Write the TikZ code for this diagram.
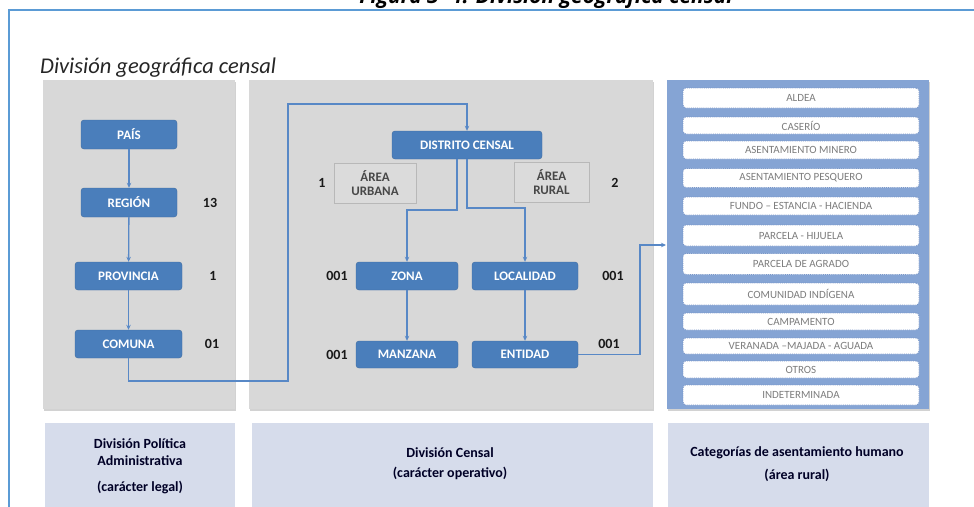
\documentclass[tikz,border=0pt]{standalone}
\usepackage{fontspec}
\setmainfont{Carlito}
\newfontfamily\titlefont{Open Sans}
\usetikzlibrary{arrows.meta,shadows}
\definecolor{frameblue}{RGB}{91,155,213}
\definecolor{boxblue}{RGB}{74,126,187}
\definecolor{linkblue}{RGB}{88,136,198}
\definecolor{panelgray}{RGB}{216,216,216}
\definecolor{catblue}{RGB}{133,164,212}
\definecolor{footblue}{RGB}{214,220,235}
\definecolor{cattext}{RGB}{125,125,125}
\definecolor{dotblue}{RGB}{120,150,200}
\tikzset{
  panel/.style={rectangle, inner sep=0pt, fill=panelgray, drop shadow={shadow xshift=0.5pt, shadow yshift=-2pt, opacity=0.35}},
  catpanel/.style={rectangle, inner sep=0pt, fill=catblue, drop shadow={shadow xshift=0.5pt, shadow yshift=-2pt, opacity=0.35}},
  footpanel/.style={rectangle, inner sep=0pt, fill=footblue},
  bluebox/.style={rectangle, rounded corners=3pt, fill=boxblue, draw=boxblue!85!black, line width=0.4pt, text=white, font=\fontsize{13}{14}\selectfont\bfseries, inner sep=0pt},
  areabox/.style={rectangle, fill=panelgray!92!white, draw=black!28, line width=0.6pt, text=black!72, font=\fontsize{13}{14}\selectfont\bfseries, align=center, inner sep=0pt, minimum height=40pt},
  numlabel/.style={font=\fontsize{14}{15}\selectfont\bfseries, text=black!90, inner sep=0pt},
  catitem/.style={rectangle, rounded corners=3pt, fill=white, draw=dotblue, densely dotted, line width=0.9pt, text=cattext, font=\fontsize{11}{12}\selectfont, minimum width=236pt, inner sep=0pt},
  foottext/.style={font=\fontsize{14}{15}\selectfont\bfseries, text=black!85!blue, inner sep=0pt},
  link/.style={draw=linkblue, line width=1.3pt},
  arr/.style={link, -{Stealth[length=5pt,width=4.5pt]}}
}
\begin{document}
\begin{tikzpicture}[x=1pt,y=-1pt]
\useasboundingbox (0,0) rectangle (974,506);
\clip (0,0) rectangle (974,506);
\fill[white] (0,0) rectangle (974,506);
% title (cut at top, as in the reference)
\node[anchor=base, inner sep=0pt, font=\titlefont\fontsize{21}{22}\selectfont\bfseries\itshape] (title) at (546,3) {Figura 3- 4: División geográfica censal};
% outer frame
\draw[frameblue, line width=2pt] (9,520) -- (9,10) -- (990,10);
% subtitle
\node[anchor=base west, inner sep=0pt, font=\fontsize{22.5}{24}\selectfont\itshape, text=black!85] (subtitle) at (40,73) {División geográfica censal};
% panels
\node[panel, minimum width=192pt, minimum height=329pt] (lpanel) at (139,244.5) {};
\node[panel, minimum width=404pt, minimum height=329pt] (mpanel) at (451,244.5) {};
\node[catpanel, minimum width=262pt, minimum height=329pt] (catp) at (798,244.5) {};
% footer panels
\node[footpanel, minimum width=190pt, minimum height=100pt] (lfoot) at (140,473) {};
\node[footpanel, minimum width=401pt, minimum height=100pt] (mfoot) at (452.5,473) {};
\node[footpanel, minimum width=261pt, minimum height=100pt] (rfoot) at (798.5,473) {};
\node[foottext] (lf1) at (140,444) {División Política};
\node[foottext] (lf2) at (140,461) {Administrativa};
\node[foottext] (lf3) at (140,487) {(carácter legal)};
\node[foottext] (mf1) at (450,453) {División Censal};
\node[foottext] (mf2) at (450,473) {(carácter operativo)};
\node[foottext] (rf1) at (797,453) {Categorías de asentamiento humano};
\node[foottext] (rf2) at (797,475) {(área rural)};
% left column
\node[bluebox, minimum width=96pt, minimum height=29pt] (pais) at (129,134.5) {PAÍS};
\node[bluebox, minimum width=96pt, minimum height=29pt] (region) at (129,202.5) {REGIÓN};
\node[bluebox, minimum width=107pt, minimum height=28pt] (provincia) at (128.5,276) {PROVINCIA};
\node[bluebox, minimum width=107pt, minimum height=28pt] (comuna) at (128.5,344) {COMUNA};
\node[numlabel] (n13) at (210,202.5) {13};
\node[numlabel] (n1a) at (213,276) {1};
\node[numlabel] (n01) at (212,344) {01};
% middle column
\node[bluebox, minimum width=150pt, minimum height=28pt] (distrito) at (467,145) {DISTRITO CENSAL};
\node[areabox, minimum width=82pt] (urbana) at (375,183) {ÁREA\\URBANA};
\node[areabox, minimum width=75pt] (rural) at (551.5,182.5) {ÁREA\\RURAL};
\node[numlabel] (n1b) at (322,183) {1};
\node[numlabel] (n2) at (615,182.5) {2};
\node[bluebox, minimum width=102pt, minimum height=28pt] (zona) at (407,276) {ZONA};
\node[bluebox, minimum width=106pt, minimum height=28pt] (localidad) at (525,276) {LOCALIDAD};
\node[bluebox, minimum width=102pt, minimum height=27pt] (manzana) at (407,354.5) {MANZANA};
\node[bluebox, minimum width=106pt, minimum height=27pt] (entidad) at (525,354.5) {ENTIDAD};
\node[numlabel] (n001a) at (337,276) {001};
\node[numlabel] (n001b) at (337,355) {001};
\node[numlabel] (n001c) at (613,276) {001};
\node[numlabel] (n001d) at (609,344) {001};
% category items
\node[catitem, minimum height=20pt] (c1) at (801,98) {ALDEA};
\node[catitem, minimum height=17pt] (c2) at (801,125.5) {CASERÍO};
\node[catitem, minimum height=18pt] (c3) at (801,150) {ASENTAMIENTO MINERO};
\node[catitem, minimum height=19pt] (c4) at (801,178) {ASENTAMIENTO PESQUERO};
\node[catitem, minimum height=18pt] (c5) at (801,206) {FUNDO – ESTANCIA - HACIENDA};
\node[catitem, minimum height=21pt] (c6) at (801,235.5) {PARCELA - HIJUELA};
\node[catitem, minimum height=21pt] (c7) at (801,264) {PARCELA DE AGRADO};
\node[catitem, minimum height=22pt] (c8) at (801,294) {COMUNIDAD INDÍGENA};
\node[catitem, minimum height=17pt] (c9) at (801,321.5) {CAMPAMENTO};
\node[catitem, minimum height=16pt] (c10) at (801,346) {VERANADA –MAJADA - AGUADA};
\node[catitem, minimum height=17pt] (c11) at (801,369.5) {OTROS};
\node[catitem, minimum height=20pt] (c12) at (801,395) {INDETERMINADA};
% connectors left column
\draw[arr] (pais) -- (region);
\draw[arr] (region) -- (provincia);
\draw[arr] (provincia) -- (comuna);
% comuna to distrito
\coordinate (k1) at (288,381);
\coordinate (k2) at (288,104);
\draw[arr] (comuna.south) |- (k1) -- (k2) -| (distrito.north);
% distrito branches
\coordinate (bz) at (407,210);
\coordinate (bl) at (525,208);
\draw[arr] ([xshift=-10pt]distrito.south) |- (bz) -- (zona.north);
\draw[arr] (distrito.south) |- (bl) -- (localidad.north);
\draw[arr] (zona) -- (manzana);
\draw[arr] (localidad) -- (entidad);
% entidad to categories
\coordinate (e1) at (640,245);
\coordinate (e2) at (666,245);
\draw[arr] (entidad.east) -| (e1) -- (e2);
\end{tikzpicture}
\end{document}
